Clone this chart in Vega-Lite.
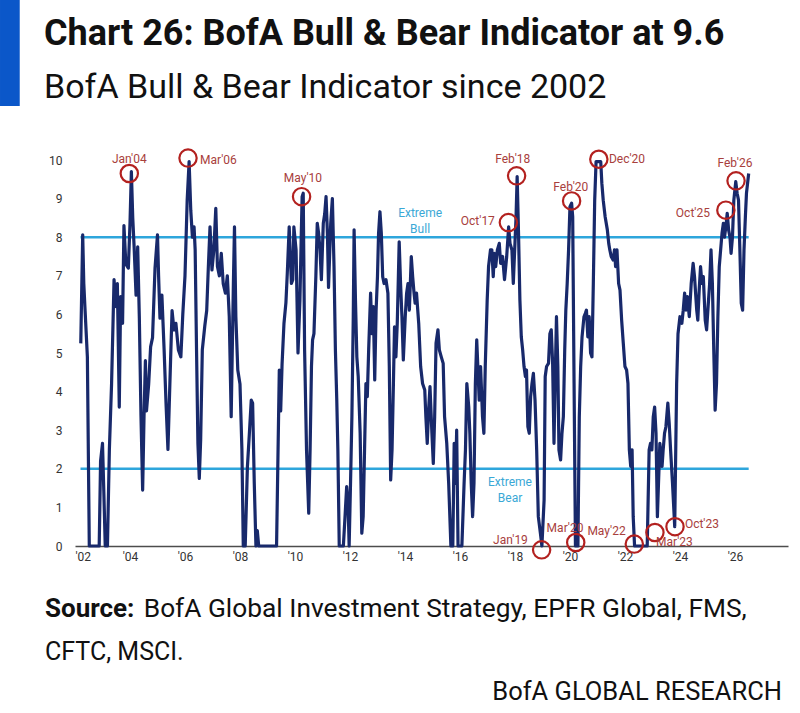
{
  "$schema": "https://vega.github.io/schema/vega-lite/v6.json",
  "description": "BofA Bull & Bear Indicator since 2002",
  "autosize": "none",
  "width": 713,
  "height": 386,
  "padding": {"left": 75, "top": 160, "right": 12, "bottom": 167},
  "background": "white",
  "title": {
    "text": "Chart 26: BofA Bull & Bear Indicator at 9.6",
    "subtitle": "BofA Bull & Bear Indicator since 2002",
    "anchor": "start",
    "frame": "group",
    "dx": -31,
    "offset": -106,
    "font": "Roboto",
    "fontSize": 36,
    "fontWeight": "bold",
    "color": "#111111",
    "subtitleFont": "Roboto",
    "subtitleFontSize": 34,
    "subtitleColor": "#111111",
    "subtitlePadding": 18
  },
  "config": {
    "view": {"stroke": null},
    "font": "Roboto",
    "axisY": {"labelOverlap": false, "tickCount": 11}
  },
  "datasets": {
    "series": [
      {"t": 2002.21, "v": 5.25}, {"t": 2002.28, "v": 8.06}, {"t": 2002.32, "v": 6.8}, {"t": 2002.36, "v": 6.2},
      {"t": 2002.45, "v": 4.9}, {"t": 2002.52, "v": 0}, {"t": 2002.88, "v": 0}, {"t": 2002.93, "v": 2.2},
      {"t": 2003.0, "v": 2.66}, {"t": 2003.05, "v": 1.36}, {"t": 2003.1, "v": 0}, {"t": 2003.18, "v": 0},
      {"t": 2003.25, "v": 2.5}, {"t": 2003.33, "v": 4.2}, {"t": 2003.37, "v": 5.4}, {"t": 2003.42, "v": 6.9},
      {"t": 2003.49, "v": 6.2}, {"t": 2003.54, "v": 6.8}, {"t": 2003.61, "v": 3.6}, {"t": 2003.66, "v": 6.46},
      {"t": 2003.73, "v": 5.77}, {"t": 2003.78, "v": 8.3}, {"t": 2003.85, "v": 7.3}, {"t": 2003.94, "v": 7.2},
      {"t": 2004.0, "v": 8.36}, {"t": 2004.05, "v": 9.7}, {"t": 2004.1, "v": 8.5}, {"t": 2004.15, "v": 7.75},
      {"t": 2004.22, "v": 6.5}, {"t": 2004.28, "v": 7.75}, {"t": 2004.34, "v": 5.9}, {"t": 2004.4, "v": 3.35},
      {"t": 2004.46, "v": 1.45}, {"t": 2004.51, "v": 3.35}, {"t": 2004.56, "v": 4.8}, {"t": 2004.6, "v": 3.5},
      {"t": 2004.68, "v": 4.2}, {"t": 2004.75, "v": 5.16}, {"t": 2004.82, "v": 5.4}, {"t": 2004.91, "v": 7.2},
      {"t": 2005.0, "v": 8.06}, {"t": 2005.04, "v": 7.0}, {"t": 2005.09, "v": 5.9}, {"t": 2005.16, "v": 6.5},
      {"t": 2005.24, "v": 5.1}, {"t": 2005.31, "v": 3.7}, {"t": 2005.38, "v": 2.5}, {"t": 2005.45, "v": 4.2},
      {"t": 2005.53, "v": 6.1}, {"t": 2005.6, "v": 5.6}, {"t": 2005.67, "v": 5.77}, {"t": 2005.76, "v": 5.08},
      {"t": 2005.85, "v": 4.9}, {"t": 2005.92, "v": 6.0}, {"t": 2006.0, "v": 7.0}, {"t": 2006.08, "v": 8.96},
      {"t": 2006.15, "v": 9.96}, {"t": 2006.21, "v": 8.7}, {"t": 2006.27, "v": 8.0}, {"t": 2006.33, "v": 8.27},
      {"t": 2006.37, "v": 7.67}, {"t": 2006.42, "v": 5.08}, {"t": 2006.47, "v": 2.66}, {"t": 2006.52, "v": 1.75},
      {"t": 2006.57, "v": 2.75}, {"t": 2006.63, "v": 5.08}, {"t": 2006.72, "v": 5.7}, {"t": 2006.79, "v": 6.1},
      {"t": 2006.85, "v": 7.24}, {"t": 2006.91, "v": 8.27}, {"t": 2006.98, "v": 7.15}, {"t": 2007.05, "v": 7.67},
      {"t": 2007.12, "v": 8.75}, {"t": 2007.18, "v": 7.24}, {"t": 2007.25, "v": 7.0}, {"t": 2007.32, "v": 7.58},
      {"t": 2007.39, "v": 6.8}, {"t": 2007.47, "v": 6.55}, {"t": 2007.54, "v": 7.0}, {"t": 2007.61, "v": 5.94},
      {"t": 2007.68, "v": 3.35}, {"t": 2007.76, "v": 6.8}, {"t": 2007.8, "v": 8.27}, {"t": 2007.85, "v": 5.94},
      {"t": 2007.92, "v": 4.56}, {"t": 2008.0, "v": 4.2}, {"t": 2008.07, "v": 2.5}, {"t": 2008.12, "v": 0},
      {"t": 2008.19, "v": 0}, {"t": 2008.27, "v": 2.05}, {"t": 2008.34, "v": 2.9}, {"t": 2008.41, "v": 3.78},
      {"t": 2008.46, "v": 3.7}, {"t": 2008.52, "v": 1.62}, {"t": 2008.58, "v": 0}, {"t": 2008.63, "v": 0.4},
      {"t": 2008.68, "v": 0}, {"t": 2009.33, "v": 0}, {"t": 2009.43, "v": 4.56}, {"t": 2009.48, "v": 3.5},
      {"t": 2009.53, "v": 4.7}, {"t": 2009.6, "v": 5.77}, {"t": 2009.67, "v": 6.3}, {"t": 2009.72, "v": 7.06},
      {"t": 2009.79, "v": 8.27}, {"t": 2009.87, "v": 6.8}, {"t": 2009.92, "v": 6.9}, {"t": 2009.96, "v": 8.27},
      {"t": 2010.04, "v": 7.67}, {"t": 2010.11, "v": 5.0}, {"t": 2010.18, "v": 6.37}, {"t": 2010.23, "v": 8.1},
      {"t": 2010.26, "v": 9.05}, {"t": 2010.3, "v": 9.14}, {"t": 2010.35, "v": 5.08}, {"t": 2010.42, "v": 2.49},
      {"t": 2010.5, "v": 0.85}, {"t": 2010.55, "v": 2.5}, {"t": 2010.6, "v": 4.65}, {"t": 2010.64, "v": 5.34},
      {"t": 2010.69, "v": 5.5}, {"t": 2010.76, "v": 7.0}, {"t": 2010.81, "v": 8.36}, {"t": 2010.86, "v": 8.1},
      {"t": 2010.91, "v": 7.67}, {"t": 2010.96, "v": 6.9}, {"t": 2011.03, "v": 8.36}, {"t": 2011.08, "v": 8.6},
      {"t": 2011.13, "v": 9.05}, {"t": 2011.18, "v": 8.1}, {"t": 2011.22, "v": 6.7}, {"t": 2011.3, "v": 8.36},
      {"t": 2011.36, "v": 9.0}, {"t": 2011.42, "v": 7.24}, {"t": 2011.47, "v": 5.08}, {"t": 2011.52, "v": 3.78},
      {"t": 2011.56, "v": 2.49}, {"t": 2011.61, "v": 0}, {"t": 2011.76, "v": 0}, {"t": 2011.82, "v": 0.76},
      {"t": 2011.88, "v": 1.54}, {"t": 2011.93, "v": 1.1}, {"t": 2011.97, "v": 0}, {"t": 2012.02, "v": 1.62},
      {"t": 2012.07, "v": 3.35}, {"t": 2012.12, "v": 5.94}, {"t": 2012.15, "v": 8.19}, {"t": 2012.2, "v": 6.37},
      {"t": 2012.25, "v": 4.9}, {"t": 2012.3, "v": 4.39}, {"t": 2012.37, "v": 2.92}, {"t": 2012.43, "v": 0.33},
      {"t": 2012.48, "v": 0.76}, {"t": 2012.53, "v": 2.49}, {"t": 2012.58, "v": 4.21}, {"t": 2012.63, "v": 3.87},
      {"t": 2012.68, "v": 5.08}, {"t": 2012.75, "v": 6.55}, {"t": 2012.8, "v": 5.5}, {"t": 2012.85, "v": 6.2},
      {"t": 2012.9, "v": 4.3}, {"t": 2012.95, "v": 6.1}, {"t": 2013.0, "v": 6.98}, {"t": 2013.04, "v": 8.1},
      {"t": 2013.09, "v": 8.66}, {"t": 2013.14, "v": 8.1}, {"t": 2013.19, "v": 6.98}, {"t": 2013.24, "v": 6.8},
      {"t": 2013.31, "v": 6.9}, {"t": 2013.38, "v": 6.55}, {"t": 2013.43, "v": 4.65}, {"t": 2013.48, "v": 1.71},
      {"t": 2013.53, "v": 2.49}, {"t": 2013.58, "v": 4.21}, {"t": 2013.62, "v": 5.68}, {"t": 2013.67, "v": 4.9},
      {"t": 2013.72, "v": 5.77}, {"t": 2013.79, "v": 7.88}, {"t": 2013.84, "v": 6.8}, {"t": 2013.89, "v": 5.94},
      {"t": 2013.94, "v": 4.82}, {"t": 2014.01, "v": 5.94}, {"t": 2014.06, "v": 6.55}, {"t": 2014.11, "v": 6.8},
      {"t": 2014.16, "v": 6.11}, {"t": 2014.23, "v": 7.5}, {"t": 2014.28, "v": 6.98}, {"t": 2014.33, "v": 6.55},
      {"t": 2014.37, "v": 6.29}, {"t": 2014.42, "v": 6.55}, {"t": 2014.5, "v": 5.77}, {"t": 2014.57, "v": 4.65},
      {"t": 2014.64, "v": 4.21}, {"t": 2014.72, "v": 4.04}, {"t": 2014.76, "v": 3.35}, {"t": 2014.81, "v": 2.66},
      {"t": 2014.86, "v": 3.52}, {"t": 2014.91, "v": 4.13}, {"t": 2014.98, "v": 2.92}, {"t": 2015.03, "v": 2.14},
      {"t": 2015.08, "v": 3.35}, {"t": 2015.13, "v": 5.25}, {"t": 2015.2, "v": 5.6}, {"t": 2015.25, "v": 5.08},
      {"t": 2015.32, "v": 4.9}, {"t": 2015.39, "v": 4.73}, {"t": 2015.44, "v": 3.35}, {"t": 2015.52, "v": 2.66},
      {"t": 2015.59, "v": 1.62}, {"t": 2015.67, "v": 0}, {"t": 2015.74, "v": 0}, {"t": 2015.79, "v": 2.66},
      {"t": 2015.84, "v": 1.62}, {"t": 2015.88, "v": 3.0}, {"t": 2015.93, "v": 0}, {"t": 2016.07, "v": 0},
      {"t": 2016.15, "v": 1.62}, {"t": 2016.2, "v": 2.49}, {"t": 2016.25, "v": 4.21}, {"t": 2016.32, "v": 3.6},
      {"t": 2016.36, "v": 2.92}, {"t": 2016.41, "v": 1.62}, {"t": 2016.46, "v": 0.76}, {"t": 2016.51, "v": 1.62},
      {"t": 2016.56, "v": 4.21}, {"t": 2016.61, "v": 5.34}, {"t": 2016.65, "v": 4.65}, {"t": 2016.7, "v": 3.78},
      {"t": 2016.75, "v": 4.65}, {"t": 2016.82, "v": 3.35}, {"t": 2016.87, "v": 2.92}, {"t": 2016.92, "v": 4.65},
      {"t": 2016.99, "v": 6.37}, {"t": 2017.04, "v": 7.24}, {"t": 2017.11, "v": 7.67}, {"t": 2017.16, "v": 7.67},
      {"t": 2017.21, "v": 6.98}, {"t": 2017.25, "v": 7.58}, {"t": 2017.3, "v": 7.24}, {"t": 2017.36, "v": 7.67},
      {"t": 2017.43, "v": 7.84}, {"t": 2017.48, "v": 7.32}, {"t": 2017.55, "v": 7.5}, {"t": 2017.62, "v": 6.9},
      {"t": 2017.7, "v": 7.5}, {"t": 2017.77, "v": 8.27}, {"t": 2017.82, "v": 7.84}, {"t": 2017.89, "v": 7.67},
      {"t": 2017.94, "v": 6.8}, {"t": 2017.99, "v": 7.67}, {"t": 2018.04, "v": 8.53}, {"t": 2018.08, "v": 9.57},
      {"t": 2018.13, "v": 8.1}, {"t": 2018.18, "v": 6.37}, {"t": 2018.23, "v": 5.42}, {"t": 2018.28, "v": 5.08},
      {"t": 2018.33, "v": 4.65}, {"t": 2018.38, "v": 4.39}, {"t": 2018.42, "v": 4.56}, {"t": 2018.47, "v": 3.09},
      {"t": 2018.52, "v": 2.92}, {"t": 2018.57, "v": 3.87}, {"t": 2018.62, "v": 4.21}, {"t": 2018.67, "v": 4.47},
      {"t": 2018.73, "v": 3.78}, {"t": 2018.79, "v": 2.49}, {"t": 2018.85, "v": 0.76}, {"t": 2018.93, "v": 0.3},
      {"t": 2018.98, "v": 0}, {"t": 2019.06, "v": 1.19}, {"t": 2019.1, "v": 4.39}, {"t": 2019.15, "v": 4.65},
      {"t": 2019.22, "v": 4.73}, {"t": 2019.27, "v": 5.5}, {"t": 2019.32, "v": 5.6}, {"t": 2019.37, "v": 4.73},
      {"t": 2019.42, "v": 2.66}, {"t": 2019.46, "v": 4.21}, {"t": 2019.51, "v": 5.94}, {"t": 2019.56, "v": 4.65},
      {"t": 2019.6, "v": 2.49}, {"t": 2019.66, "v": 2.23}, {"t": 2019.71, "v": 2.92}, {"t": 2019.76, "v": 3.35},
      {"t": 2019.81, "v": 5.08}, {"t": 2019.85, "v": 6.11}, {"t": 2019.9, "v": 6.8}, {"t": 2019.95, "v": 7.67},
      {"t": 2020.0, "v": 8.79}, {"t": 2020.06, "v": 8.88}, {"t": 2020.1, "v": 8.53}, {"t": 2020.15, "v": 4.21},
      {"t": 2020.2, "v": 0}, {"t": 2020.29, "v": 0}, {"t": 2020.34, "v": 3.35}, {"t": 2020.39, "v": 4.65},
      {"t": 2020.44, "v": 5.42}, {"t": 2020.51, "v": 5.94}, {"t": 2020.56, "v": 6.03}, {"t": 2020.6, "v": 6.11},
      {"t": 2020.65, "v": 5.42}, {"t": 2020.7, "v": 5.94}, {"t": 2020.75, "v": 5.0}, {"t": 2020.8, "v": 4.9},
      {"t": 2020.85, "v": 6.8}, {"t": 2020.9, "v": 8.96}, {"t": 2020.95, "v": 9.96}, {"t": 2021.05, "v": 9.96},
      {"t": 2021.12, "v": 9.96}, {"t": 2021.16, "v": 9.4}, {"t": 2021.21, "v": 8.96}, {"t": 2021.28, "v": 8.53},
      {"t": 2021.36, "v": 8.19}, {"t": 2021.41, "v": 7.84}, {"t": 2021.45, "v": 7.67}, {"t": 2021.5, "v": 7.5},
      {"t": 2021.57, "v": 7.41}, {"t": 2021.62, "v": 7.67}, {"t": 2021.66, "v": 7.24}, {"t": 2021.71, "v": 7.67},
      {"t": 2021.77, "v": 6.8}, {"t": 2021.82, "v": 6.63}, {"t": 2021.88, "v": 5.85}, {"t": 2021.94, "v": 5.25},
      {"t": 2022.0, "v": 4.65}, {"t": 2022.06, "v": 4.56}, {"t": 2022.11, "v": 4.21}, {"t": 2022.16, "v": 2.49},
      {"t": 2022.21, "v": 2.06}, {"t": 2022.26, "v": 2.49}, {"t": 2022.3, "v": 0.76}, {"t": 2022.35, "v": 0},
      {"t": 2022.81, "v": 0}, {"t": 2022.88, "v": 2.49}, {"t": 2022.93, "v": 2.66}, {"t": 2022.98, "v": 2.49},
      {"t": 2023.03, "v": 3.35}, {"t": 2023.08, "v": 3.6}, {"t": 2023.13, "v": 2.92}, {"t": 2023.18, "v": 0.76},
      {"t": 2023.22, "v": 1.62}, {"t": 2023.27, "v": 2.66}, {"t": 2023.35, "v": 2.06}, {"t": 2023.39, "v": 2.49},
      {"t": 2023.44, "v": 2.92}, {"t": 2023.49, "v": 3.09}, {"t": 2023.56, "v": 3.7}, {"t": 2023.61, "v": 3.18},
      {"t": 2023.66, "v": 2.49}, {"t": 2023.73, "v": 1.62}, {"t": 2023.81, "v": 0.5}, {"t": 2023.88, "v": 4.21},
      {"t": 2023.93, "v": 5.5}, {"t": 2024.0, "v": 5.94}, {"t": 2024.07, "v": 5.77}, {"t": 2024.12, "v": 6.11},
      {"t": 2024.17, "v": 6.55}, {"t": 2024.22, "v": 6.11}, {"t": 2024.27, "v": 6.46}, {"t": 2024.34, "v": 5.94},
      {"t": 2024.41, "v": 6.8}, {"t": 2024.48, "v": 7.32}, {"t": 2024.53, "v": 6.98}, {"t": 2024.61, "v": 6.11},
      {"t": 2024.65, "v": 5.85}, {"t": 2024.7, "v": 6.63}, {"t": 2024.75, "v": 7.24}, {"t": 2024.8, "v": 6.8},
      {"t": 2024.85, "v": 6.98}, {"t": 2024.92, "v": 5.85}, {"t": 2024.97, "v": 5.6}, {"t": 2025.04, "v": 6.37},
      {"t": 2025.08, "v": 6.8}, {"t": 2025.13, "v": 7.67}, {"t": 2025.18, "v": 6.8}, {"t": 2025.23, "v": 5.08},
      {"t": 2025.28, "v": 3.52}, {"t": 2025.33, "v": 4.21}, {"t": 2025.38, "v": 5.94}, {"t": 2025.43, "v": 7.24},
      {"t": 2025.48, "v": 7.67}, {"t": 2025.53, "v": 8.1}, {"t": 2025.58, "v": 8.36}, {"t": 2025.62, "v": 8.0},
      {"t": 2025.67, "v": 8.27}, {"t": 2025.72, "v": 8.62}, {"t": 2025.77, "v": 8.19}, {"t": 2025.82, "v": 8.0},
      {"t": 2025.86, "v": 7.58}, {"t": 2025.91, "v": 8.0}, {"t": 2025.96, "v": 8.96}, {"t": 2026.03, "v": 9.44},
      {"t": 2026.08, "v": 9.14}, {"t": 2026.13, "v": 8.96}, {"t": 2026.18, "v": 7.67}, {"t": 2026.23, "v": 6.29},
      {"t": 2026.28, "v": 6.11}, {"t": 2026.33, "v": 7.67}, {"t": 2026.38, "v": 8.53}, {"t": 2026.42, "v": 9.14},
      {"t": 2026.5, "v": 9.65}
    ],
    "highlights": [
      {"label": "Jan'04", "t": 2003.975, "v": 9.65},
      {"label": "Mar'06", "t": 2006.11, "v": 10.05},
      {"label": "May'10", "t": 2010.24, "v": 9.05},
      {"label": "Oct'17", "t": 2017.76, "v": 8.38},
      {"label": "Feb'18", "t": 2018.06, "v": 9.59},
      {"label": "Jan'19", "t": 2018.97, "v": -0.1},
      {"label": "Feb'20", "t": 2020.06, "v": 8.94},
      {"label": "Mar'20", "t": 2020.21, "v": 0.09},
      {"label": "Dec'20", "t": 2021.05, "v": 10.02},
      {"label": "May'22", "t": 2022.34, "v": 0.05},
      {"label": "Mar'23", "t": 2023.09, "v": 0.35},
      {"label": "Oct'23", "t": 2023.82, "v": 0.5},
      {"label": "Oct'25", "t": 2025.67, "v": 8.7},
      {"label": "Feb'26", "t": 2026.04, "v": 9.46}
    ],
    "labels_middle": [
      {"label": "Jan'04", "lt": 2003.975, "lv": 10.02},
      {"label": "May'10", "lt": 2010.29, "lv": 9.53},
      {"label": "Feb'18", "lt": 2017.92, "lv": 10.02},
      {"label": "Feb'20", "lt": 2020.03, "lv": 9.31},
      {"label": "Feb'26", "lt": 2026.0, "lv": 9.92},
      {"label": "Mar'20", "lt": 2019.82, "lv": 0.47},
      {"label": "May'22", "lt": 2021.33, "lv": 0.4}
    ],
    "labels_after": [
      {"label": "Mar'06", "lt": 2006.55, "lv": 10.0},
      {"label": "Dec'20", "lt": 2021.42, "lv": 10.02},
      {"label": "Oct'23", "lt": 2024.18, "lv": 0.56},
      {"label": "Mar'23", "lt": 2023.13, "lv": 0.1}
    ],
    "labels_before": [
      {"label": "Oct'17", "lt": 2017.27, "lv": 8.43},
      {"label": "Oct'25", "lt": 2025.09, "lv": 8.62},
      {"label": "Jan'19", "lt": 2018.47, "lv": 0.16}
    ],
    "zones": [
      {"level": 8, "name": "Extreme Bull", "lt": 2014.55, "lv": 8.63},
      {"level": 2, "name": "Extreme Bear", "lt": 2017.82, "lv": 1.67}
    ]
  },
  "layer": [
    {
      "data": {"values": [{"part": "accent bar"}]},
      "mark": {"type": "rect", "color": "#0b57c9"},
      "encoding": {
        "x": {"datum": 1999.273, "type": "quantitative"},
        "x2": {"datum": 1999.99},
        "y": {"datum": 14.15, "type": "quantitative"},
        "y2": {"datum": 11.4}
      }
    },
    {
      "data": {"name": "zones"},
      "mark": {"type": "rule", "color": "#2ea6dc", "strokeWidth": 2.5},
      "encoding": {
        "x": {"datum": 2002.2, "type": "quantitative"},
        "x2": {"datum": 2026.5},
        "y": {"field": "level", "type": "quantitative", "title": null}
      }
    },
    {
      "data": {"name": "series"},
      "mark": {"type": "line", "color": "#18296b", "strokeWidth": 3.2, "strokeJoin": "round"},
      "encoding": {
        "x": {
          "field": "t",
          "type": "quantitative",
          "title": null,
          "scale": {"domain": [2002, 2027.93], "nice": false, "zero": false},
          "axis": {
            "values": [2002, 2004, 2006, 2008, 2010, 2012, 2014, 2016, 2018, 2020, 2022, 2024, 2026],
            "labelExpr": "\"'\" + substring(toString(datum.value), 2, 4)",
            "grid": false,
            "ticks": false,
            "domainColor": "#4d4d4d",
            "domainWidth": 1.5,
            "labelFontSize": 12,
            "labelColor": "#333333",
            "labelPadding": 5,
            "labelFont": "Roboto"
          }
        },
        "y": {
          "field": "v",
          "type": "quantitative",
          "title": null,
          "scale": {"domain": [0, 10], "nice": false},
          "axis": {
            "values": [0, 1, 2, 3, 4, 5, 6, 7, 8, 9, 10],
            "labelOverlap": false,
            "grid": false,
            "ticks": false,
            "domain": false,
            "labelFontSize": 12,
            "labelColor": "#333333",
            "labelPadding": 13,
            "labelFont": "Roboto"
          }
        }
      }
    },
    {
      "data": {"name": "highlights"},
      "mark": {"type": "point", "shape": "circle", "filled": false, "size": 300, "stroke": "#b3211f", "strokeWidth": 2.2, "opacity": 1},
      "encoding": {
        "x": {"field": "t", "type": "quantitative", "title": null},
        "y": {"field": "v", "type": "quantitative", "title": null}
      }
    },
    {
      "data": {"name": "labels_middle"},
      "mark": {"type": "text", "align": "center", "baseline": "middle", "fontSize": 12, "color": "#a8403c"},
      "encoding": {
        "x": {"field": "lt", "type": "quantitative", "title": null},
        "y": {"field": "lv", "type": "quantitative", "title": null},
        "text": {"field": "label"}
      }
    },
    {
      "data": {"name": "labels_after"},
      "mark": {"type": "text", "align": "left", "baseline": "middle", "fontSize": 12, "color": "#a8403c"},
      "encoding": {
        "x": {"field": "lt", "type": "quantitative", "title": null},
        "y": {"field": "lv", "type": "quantitative", "title": null},
        "text": {"field": "label"}
      }
    },
    {
      "data": {"name": "labels_before"},
      "mark": {"type": "text", "align": "right", "baseline": "middle", "fontSize": 12, "color": "#a8403c"},
      "encoding": {
        "x": {"field": "lt", "type": "quantitative", "title": null},
        "y": {"field": "lv", "type": "quantitative", "title": null},
        "text": {"field": "label"}
      }
    },
    {
      "data": {"name": "zones"},
      "mark": {"type": "text", "align": "center", "baseline": "middle", "fontSize": 12, "color": "#3aa8d6", "lineBreak": " ", "lineHeight": 16},
      "encoding": {
        "x": {"field": "lt", "type": "quantitative", "title": null},
        "y": {"field": "lv", "type": "quantitative", "title": null},
        "text": {"field": "name"}
      }
    },
    {
      "data": {"values": [{"note": "Source:"}]},
      "mark": {"type": "text", "align": "left", "baseline": "alphabetic", "fontSize": 26, "fontWeight": "bold", "color": "#111111"},
      "encoding": {
        "x": {"datum": 2000.909, "type": "quantitative"},
        "y": {"datum": -1.839, "type": "quantitative"},
        "text": {"field": "note"}
      }
    },
    {
      "data": {"values": [{"note": "BofA Global Investment Strategy, EPFR Global, FMS,"}]},
      "mark": {"type": "text", "align": "left", "baseline": "alphabetic", "fontSize": 26.3, "color": "#111111"},
      "encoding": {
        "x": {"datum": 2004.5, "type": "quantitative"},
        "y": {"datum": -1.839, "type": "quantitative"},
        "text": {"field": "note"}
      }
    },
    {
      "data": {"values": [{"note": "CFTC, MSCI."}]},
      "mark": {"type": "text", "align": "left", "baseline": "alphabetic", "fontSize": 25, "color": "#111111"},
      "encoding": {
        "x": {"datum": 2000.909, "type": "quantitative"},
        "y": {"datum": -2.953, "type": "quantitative"},
        "text": {"field": "note"}
      }
    },
    {
      "data": {"values": [{"note": "BofA GLOBAL RESEARCH"}]},
      "mark": {"type": "text", "align": "right", "baseline": "alphabetic", "fontSize": 25.5, "color": "#111111"},
      "encoding": {
        "x": {"datum": 2027.709, "type": "quantitative"},
        "y": {"datum": -3.99, "type": "quantitative"},
        "text": {"field": "note"}
      }
    }
  ]
}
